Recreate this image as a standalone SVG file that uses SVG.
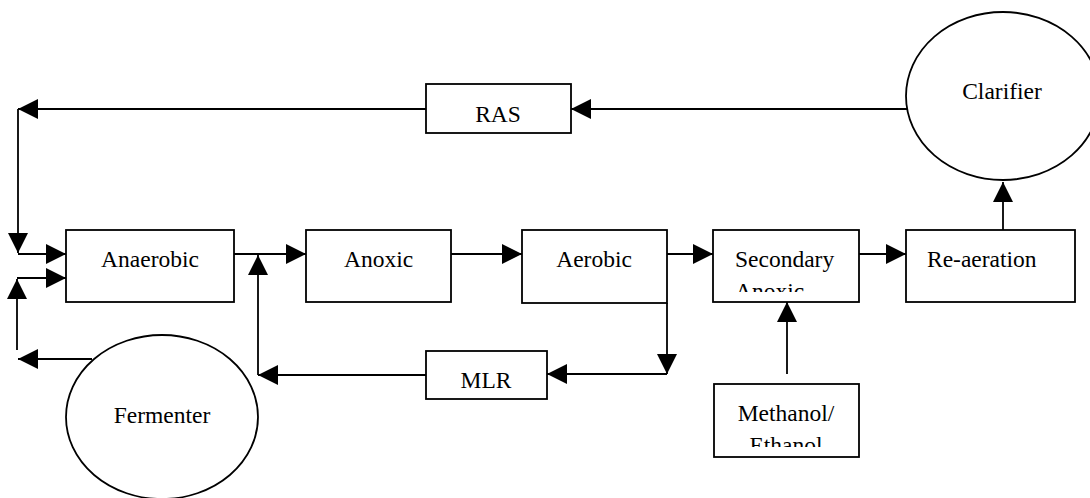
<svg xmlns="http://www.w3.org/2000/svg" width="1090" height="498" viewBox="0 0 1090 498" font-family="'Liberation Serif', 'Times New Roman', Times, serif">
<style>
.box{fill:#fff;stroke:#000;stroke-width:1.8}
.ell{fill:#fff;stroke:#000;stroke-width:1.8}
.ln{fill:none;stroke:#000;stroke-width:1.8}
.ar{marker-end:url(#ah)}
text{font-family:'Liberation Serif','Times New Roman',Times,serif;font-size:23.5px;fill:#000}
.c{text-anchor:middle}
</style>
<defs>
<marker id="ah" markerUnits="userSpaceOnUse" markerWidth="20" markerHeight="20" refX="20" refY="10" orient="auto">
<path d="M0,0 L20,10 L0,20 Z" fill="#000"/>
</marker>
<clipPath id="clipSec"><rect x="713" y="230" width="146" height="62"/></clipPath>
<clipPath id="clipMeth"><rect x="714" y="384" width="145" height="63"/></clipPath>
</defs>
<g id="connectors">
<line class="ln ar" x1="907" y1="109" x2="571" y2="109"/>
<line class="ln ar" x1="426" y1="109" x2="18" y2="109"/>
<line class="ln ar" x1="18" y1="109" x2="18" y2="253"/>
<line class="ln ar" x1="18" y1="254" x2="66" y2="254"/>
<line class="ln ar" x1="92" y1="359" x2="18" y2="359"/>
<line class="ln ar" x1="17" y1="350" x2="17" y2="279"/>
<line class="ln ar" x1="17" y1="278" x2="66" y2="278"/>
<line class="ln ar" x1="234" y1="254" x2="306" y2="254"/>
<line class="ln ar" x1="426" y1="375" x2="258" y2="375"/>
<line class="ln ar" x1="258" y1="375" x2="258" y2="255"/>
<line class="ln ar" x1="451" y1="254" x2="522" y2="254"/>
<line class="ln ar" x1="667" y1="254" x2="713" y2="254"/>
<line class="ln ar" x1="667" y1="303" x2="667" y2="374"/>
<line class="ln ar" x1="667" y1="374" x2="547" y2="374"/>
<line class="ln ar" x1="787" y1="374" x2="787" y2="302"/>
<line class="ln ar" x1="859" y1="254" x2="906" y2="254"/>
<line class="ln ar" x1="1003" y1="230" x2="1003" y2="182"/>
</g>
<g id="clarifier">
<ellipse class="ell" cx="1003" cy="96" rx="97" ry="84"/>
<text class="c" x="1002" y="99" font-family="Liberation Serif">Clarifier</text>
</g>
<g id="ras">
<rect class="box" x="426" y="84" width="145" height="49"/>
<text class="c" x="498" y="122" font-family="Liberation Serif">RAS</text>
</g>
<g id="anaerobic">
<rect class="box" x="66" y="230" width="168" height="72"/>
<text class="c" x="150" y="267" font-family="Liberation Serif">Anaerobic</text>
</g>
<g id="anoxic">
<rect class="box" x="306" y="230" width="145" height="72"/>
<text class="c" x="378.5" y="267" font-family="Liberation Serif">Anoxic</text>
</g>
<g id="aerobic">
<rect class="box" x="522" y="230" width="145" height="73"/>
<text class="c" x="594" y="267" font-family="Liberation Serif">Aerobic</text>
</g>
<g id="secondary-anoxic">
<rect class="box" x="713" y="230" width="146" height="72"/>
<g clip-path="url(#clipSec)">
<text x="735" y="267" font-family="Liberation Serif">Secondary</text>
<text x="735" y="299" font-family="Liberation Serif">Anoxic</text>
</g>
</g>
<g id="re-aeration">
<rect class="box" x="906" y="230" width="169" height="72"/>
<text x="927" y="267" font-family="Liberation Serif">Re-aeration</text>
</g>
<g id="mlr">
<rect class="box" x="426" y="351" width="121" height="48"/>
<text class="c" x="486" y="388" font-family="Liberation Serif">MLR</text>
</g>
<g id="methanol">
<rect class="box" x="714" y="384" width="145" height="73"/>
<g clip-path="url(#clipMeth)">
<text class="c" x="786" y="421" font-family="Liberation Serif">Methanol/</text>
<text class="c" x="786" y="453" font-family="Liberation Serif">Ethanol</text>
</g>
</g>
<g id="fermenter">
<ellipse class="ell" cx="162" cy="417" rx="96" ry="82"/>
<text class="c" x="162" y="423" font-family="Liberation Serif">Fermenter</text>
</g>
</svg>
